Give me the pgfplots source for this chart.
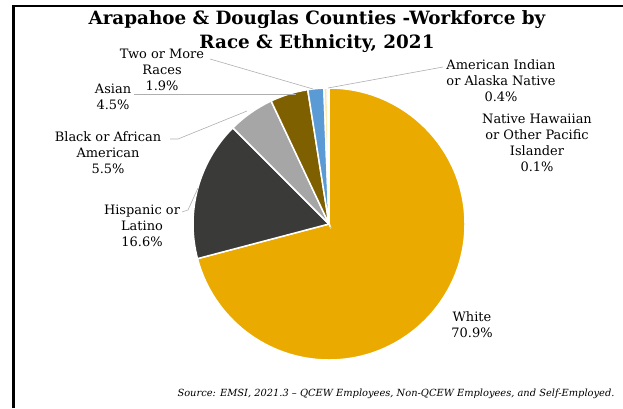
\documentclass[border=0pt]{standalone}
\usepackage{fontspec}
\setmainfont{DejaVu Serif}
\usepackage{pgfplots}
\usepackage{pgfplotstable}
\pgfplotsset{compat=1.18}

% slice colours, in table order
\definecolor{c0}{RGB}{234,170,0}
\definecolor{c1}{RGB}{58,58,56}
\definecolor{c2}{RGB}{166,166,166}
\definecolor{c3}{RGB}{127,96,0}
\definecolor{c4}{RGB}{91,155,213}
\definecolor{c5}{RGB}{255,230,153}
\definecolor{c6}{RGB}{200,200,200}
\definecolor{leader}{RGB}{175,175,175}

\pgfplotstableread[col sep=comma]{
group,value
White,70.9
Hispanic or Latino,16.6
Black or African American,5.5
Asian,4.5
Two or More Races,1.9
American Indian or Alaska Native,0.4
Native Hawaiian or Other Pacific Islander,0.1
}\piedata

% cumulative angles, clockwise from 12 o'clock
\def\cum{90}
\pgfplotsforeachungrouped \i in {0,...,6}{%
  \pgfplotstablegetelem{\i}{value}\of\piedata
  \pgfmathsetmacro\endang{\cum-3.6*\pgfplotsretval}%
  \expandafter\xdef\csname sa\i\endcsname{\cum}%
  \expandafter\xdef\csname ea\i\endcsname{\endang}%
  \xdef\cum{\endang}%
}

\begin{document}
\begin{tikzpicture}
\begin{axis}[
    x=1bp, y=1bp,
    xmin=0, xmax=623, ymin=0, ymax=408,
    hide axis, clip=false,
  ]
  \coordinate (bl) at (0,0);
  \coordinate (tr) at (623,408);
  % frame
  \draw[line width=3bp] (13,0) -- (13,403);
  \draw[line width=2bp] (12,402) -- (623,402);

  \pgfplotsinvokeforeach{0,...,6}{
    \filldraw[fill=c#1, draw=white, line width=1.5bp]
      (329,184) -- ++(\csname sa#1\endcsname:136bp)
      arc[start angle=\csname sa#1\endcsname, end angle=\csname ea#1\endcsname, radius=136bp]
      -- cycle;
  }

  % leader lines
  \draw[leader, line width=0.6bp] (210,349) -- (313,319);
  \draw[leader, line width=0.6bp] (134,314) -- (296,314);
  \draw[leader, line width=0.6bp] (170,269) -- (178,269) -- (247,297);
  \draw[leader, line width=0.6bp] (182,196) -- (188,198) -- (198,220);
  \draw[leader, line width=0.6bp] (443,341) -- (328,320);

  \tikzset{lab/.style={align=center, font=\fontsize{13}{16}\selectfont}}
  \node[lab] at (162,338) {Two or More\\Races\\1.9\%};
  \node[lab] at (113,311) {Asian\\4.5\%};
  \node[lab] at (108,255) {Black or African\\American\\5.5\%};
  \node[lab] at (142,182) {Hispanic or\\Latino\\16.6\%};
  \node[lab] at (501,327) {American Indian\\or Alaska Native\\0.4\%};
  \node[lab] at (537,265) {Native Hawaiian\\or Other Pacific\\Islander\\0.1\%};
  \node[lab] at (472,83) {White\\70.9\%};

  \node[align=center, font=\bfseries\fontsize{18.4}{24}\selectfont] at (317,376)
    {Arapahoe \& Douglas Counties -Workforce by\\Race \& Ethnicity, 2021};
  \node[anchor=east, font=\itshape\fontsize{9.9}{10}\selectfont] at (618,14)
    {Source: EMSI, 2021.3 – QCEW Employees, Non-QCEW Employees, and Self-Employed.};
\end{axis}
\pgfresetboundingbox
\path (bl) rectangle (tr);
\end{tikzpicture}
\end{document}
